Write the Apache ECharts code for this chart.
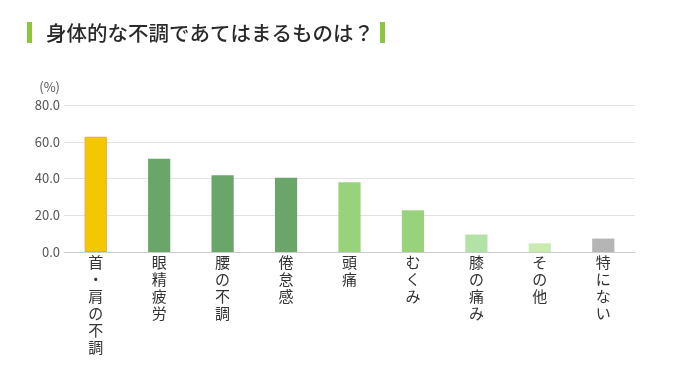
<!DOCTYPE html>
<html>
<head>
<meta charset="utf-8">
<script src="https://cdn.jsdelivr.net/npm/echarts@6/dist/echarts.min.js"></script>
<style>
  html, body { margin: 0; padding: 0; background: #fff; }
  #chart { width: 680px; height: 376px; }
</style>
</head>
<body>
<div id="chart"></div>
<script>
var categories = ['首・肩の不調', '眼精疲労', '腰の不調', '倦怠感', '頭痛', 'むくみ', '膝の痛み', 'その他', '特にない']
var values = [62.7, 50.7, 41.8, 40.4, 37.9, 22.7, 9.5, 4.7, 7.3]
var barColors = ['#f2c800', '#6aa66a', '#6aa66a', '#6aa66a', '#98d27b', '#98d27b', '#b3e2a7', '#c8ebb0', '#b5b5b5']
var yTicks = [0, 20, 40, 60, 80]

var font = '"Noto Sans CJK JP", "Noto Sans", sans-serif'
var chart = echarts.init(document.getElementById('chart'))

var option = {
  animation: false,
  textStyle: { fontFamily: font },
  title: {
    text: '身体的な不調であてはまるものは？',
    left: 41,
    top: 18,
    textStyle: { fontSize: 20.5, fontWeight: 500, color: '#2a2a2a', fontFamily: font }
  },
  graphic: [
    { type: 'rect', left: 27, top: 22, shape: { width: 5, height: 21 }, style: { fill: '#8cc63f' } },
    { type: 'rect', left: 380, top: 22, shape: { width: 5, height: 21 }, style: { fill: '#8cc63f' } }
  ],
  grid: { left: 64, right: 45, top: 105, bottom: 124 },
  xAxis: {
    type: 'category',
    data: categories,
    axisLine: { lineStyle: { color: '#cccccc' } },
    axisTick: { show: false },
    axisLabel: {
      interval: 0,
      color: '#333',
      fontSize: 15,
      lineHeight: 17,
      margin: 2,
      verticalAlign: 'top',
      formatter: function (v) { return v.split('').join('\n') }
    }
  },
  yAxis: {
    type: 'value',
    min: yTicks[0],
    max: yTicks[yTicks.length - 1],
    interval: 20,
    name: '(%)',
    nameGap: 11,
    nameTextStyle: { color: '#555', fontSize: 13, align: 'right', padding: [0, 4, 0, 0] },
    axisLine: { show: false },
    axisTick: { show: false },
    axisLabel: {
      color: '#555',
      fontSize: 13,
      margin: 4,
      formatter: function (v) { return v.toFixed(1) }
    },
    splitLine: { lineStyle: { color: '#e2e2e2' } }
  },
  series: [{
    type: 'bar',
    barWidth: '35%',
    data: values.map(function (v, i) {
      return {
        value: v,
        itemStyle: i === 0
          ? { color: barColors[i], borderColor: '#f0a53c', borderWidth: 1 }
          : { color: barColors[i] }
      }
    })
  }]
}
chart.setOption(option)
</script>
</body>
</html>
